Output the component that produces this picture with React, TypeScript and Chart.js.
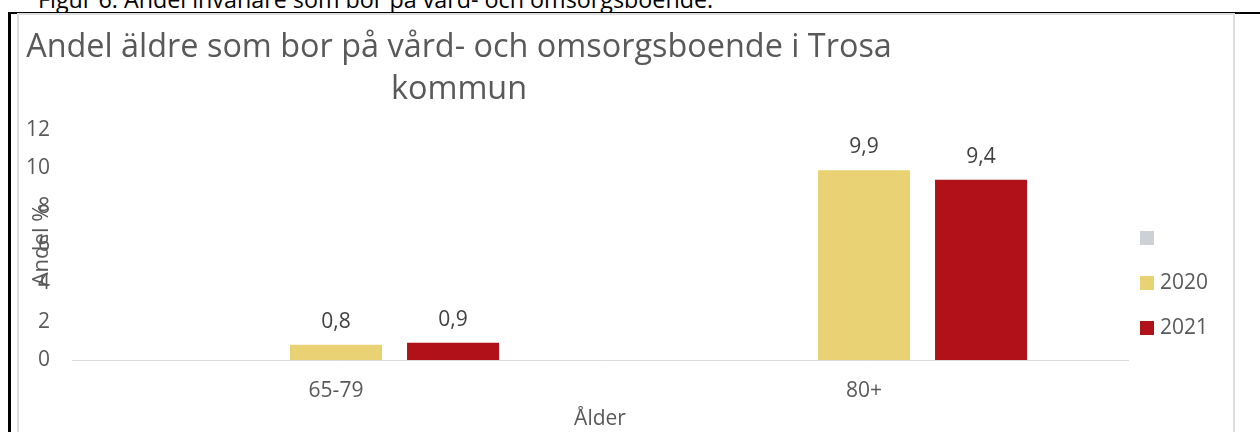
import React, { useEffect, useRef } from 'react';
import { Chart, registerables } from 'chart.js';

Chart.register(...registerables);

const CAPTION = 'Figur 6. Andel invånare som bor på vård- och omsorgsboende.';
const TITLE_LINES = ['Andel äldre som bor på vård- och omsorgsboende i Trosa', 'kommun'];
const CATEGORIES = ['65-79', '80+'];
const SERIES_LABELS = ['', '2020', '2021'];
const BLANK_VALUES: (number | null)[] = [null, null];
const VALUES_2020 = [0.8, 9.9];
const VALUES_2021 = [0.9, 9.4];
const Y_TICKS = [0, 2, 4, 6, 8, 10, 12];
const X_TITLE = 'Ålder';
const Y_TITLE = 'Andel %';
const COLORS = ['#CDD1D5', '#E8D274', '#B11118'];

const FONT = '"Open Sans", "Noto Sans", sans-serif';
const TEXT = '#595959';

const fmt = (v: number) => v.toFixed(1).replace('.', ',');

const extrasPlugin = {
  id: 'extras',
  afterDatasetsDraw(chart: any) {
    const ctx = chart.ctx;
    ctx.save();
    ctx.font = `21px ${FONT}`;
    ctx.fillStyle = '#404040';
    ctx.textAlign = 'center';
    ctx.textBaseline = 'alphabetic';
    chart.data.datasets.forEach((ds: any, i: number) => {
      const meta = chart.getDatasetMeta(i);
      meta.data.forEach((bar: any, j: number) => {
        const v = ds.data[j];
        if (v == null) return;
        ctx.fillText(fmt(v), bar.x, bar.y - 17);
      });
    });
    ctx.restore();
  },
  afterDraw(chart: any) {
    const ctx = chart.ctx;
    ctx.save();
    // Title
    ctx.font = `32.4px ${FONT}`;
    ctx.fillStyle = TEXT;
    ctx.textAlign = 'center';
    ctx.textBaseline = 'alphabetic';
    ctx.fillText(TITLE_LINES[0], 459, 57);
    ctx.fillText(TITLE_LINES[1], 459, 99);
    // Legend
    const area = chart.chartArea;
    ctx.font = `21px ${FONT}`;
    ctx.textAlign = 'left';
    ctx.textBaseline = 'middle';
    chart.data.datasets.forEach((ds: any, i: number) => {
      const cy = 238 + i * 45;
      const x = area.right + 12;
      ctx.fillStyle = ds.backgroundColor;
      ctx.fillRect(x, cy - 7, 14, 14);
      ctx.fillStyle = TEXT;
      ctx.fillText(ds.label, x + 20, cy);
    });
    ctx.restore();
  },
};

export default function App() {
  const ref = useRef<HTMLCanvasElement | null>(null);

  useEffect(() => {
    if (!ref.current) return;
    const chart = new Chart(ref.current, {
      type: 'bar',
      data: {
        labels: CATEGORIES,
        datasets: [
          { label: SERIES_LABELS[0], data: BLANK_VALUES, backgroundColor: COLORS[0] },
          { label: SERIES_LABELS[1], data: VALUES_2020, backgroundColor: COLORS[1] },
          { label: SERIES_LABELS[2], data: VALUES_2021, backgroundColor: COLORS[2] },
        ],
      },
      options: {
        responsive: false,
        animation: false,
        datasets: { bar: { categoryPercentage: 0.665, barPercentage: 0.786 } },
        layout: { padding: { left: 0, right: 132, top: 130, bottom: 0 } },
        plugins: {
          legend: { display: false },
          title: { display: false },
          tooltip: { enabled: false },
        },
        scales: {
          x: {
            grid: { display: false, drawTicks: false },
            border: { display: true, color: '#d9d9d9', width: 1 },
            ticks: { color: TEXT, font: { family: FONT, size: 21 }, padding: 18 },
            title: {
              display: true,
              text: X_TITLE,
              color: TEXT,
              font: { family: FONT, size: 21 },
              padding: { top: 0, bottom: 0 },
            },
            afterFit: (s: any) => {
              s.height = 72;
            },
          },
          y: {
            min: Y_TICKS[0],
            max: Y_TICKS[Y_TICKS.length - 1],
            ticks: {
              stepSize: Y_TICKS[1] - Y_TICKS[0],
              color: TEXT,
              font: { family: FONT, size: 21 },
              padding: 22,
            },
            grid: { display: false, drawTicks: false },
            border: { display: false },
            title: {
              display: true,
              text: Y_TITLE,
              color: TEXT,
              font: { family: FONT, size: 22 },
              padding: { top: 29, bottom: 0 },
            },
            afterFit: (s: any) => {
              s.width = 72;
            },
          },
        },
      },
      plugins: [extrasPlugin],
    });
    return () => chart.destroy();
  }, []);

  return (
    <div
      style={{
        position: 'absolute',
        left: 0,
        top: 0,
        width: 1260,
        height: 432,
        overflow: 'hidden',
        background: '#fff',
      }}
    >
      <div
        style={{
          position: 'absolute',
          left: 38,
          top: -12,
          fontFamily: FONT,
          fontSize: 23.3,
          lineHeight: '23px',
          color: '#000',
          whiteSpace: 'nowrap',
        }}
      >
        {CAPTION}
      </div>
      <div style={{ position: 'absolute', left: 8, top: 12, width: 1252, height: 2, background: '#000' }} />
      <div style={{ position: 'absolute', left: 8, top: 12, width: 3, height: 420, background: '#000' }} />
      <div
        style={{
          position: 'absolute',
          left: 17,
          top: 13,
          width: 1214,
          height: 440,
          border: '2px solid #dedede',
        }}
      />
      <canvas
        ref={ref}
        width={1260}
        height={432}
        style={{ position: 'absolute', left: 0, top: 0, width: 1260, height: 432 }}
      />
    </div>
  );
}
